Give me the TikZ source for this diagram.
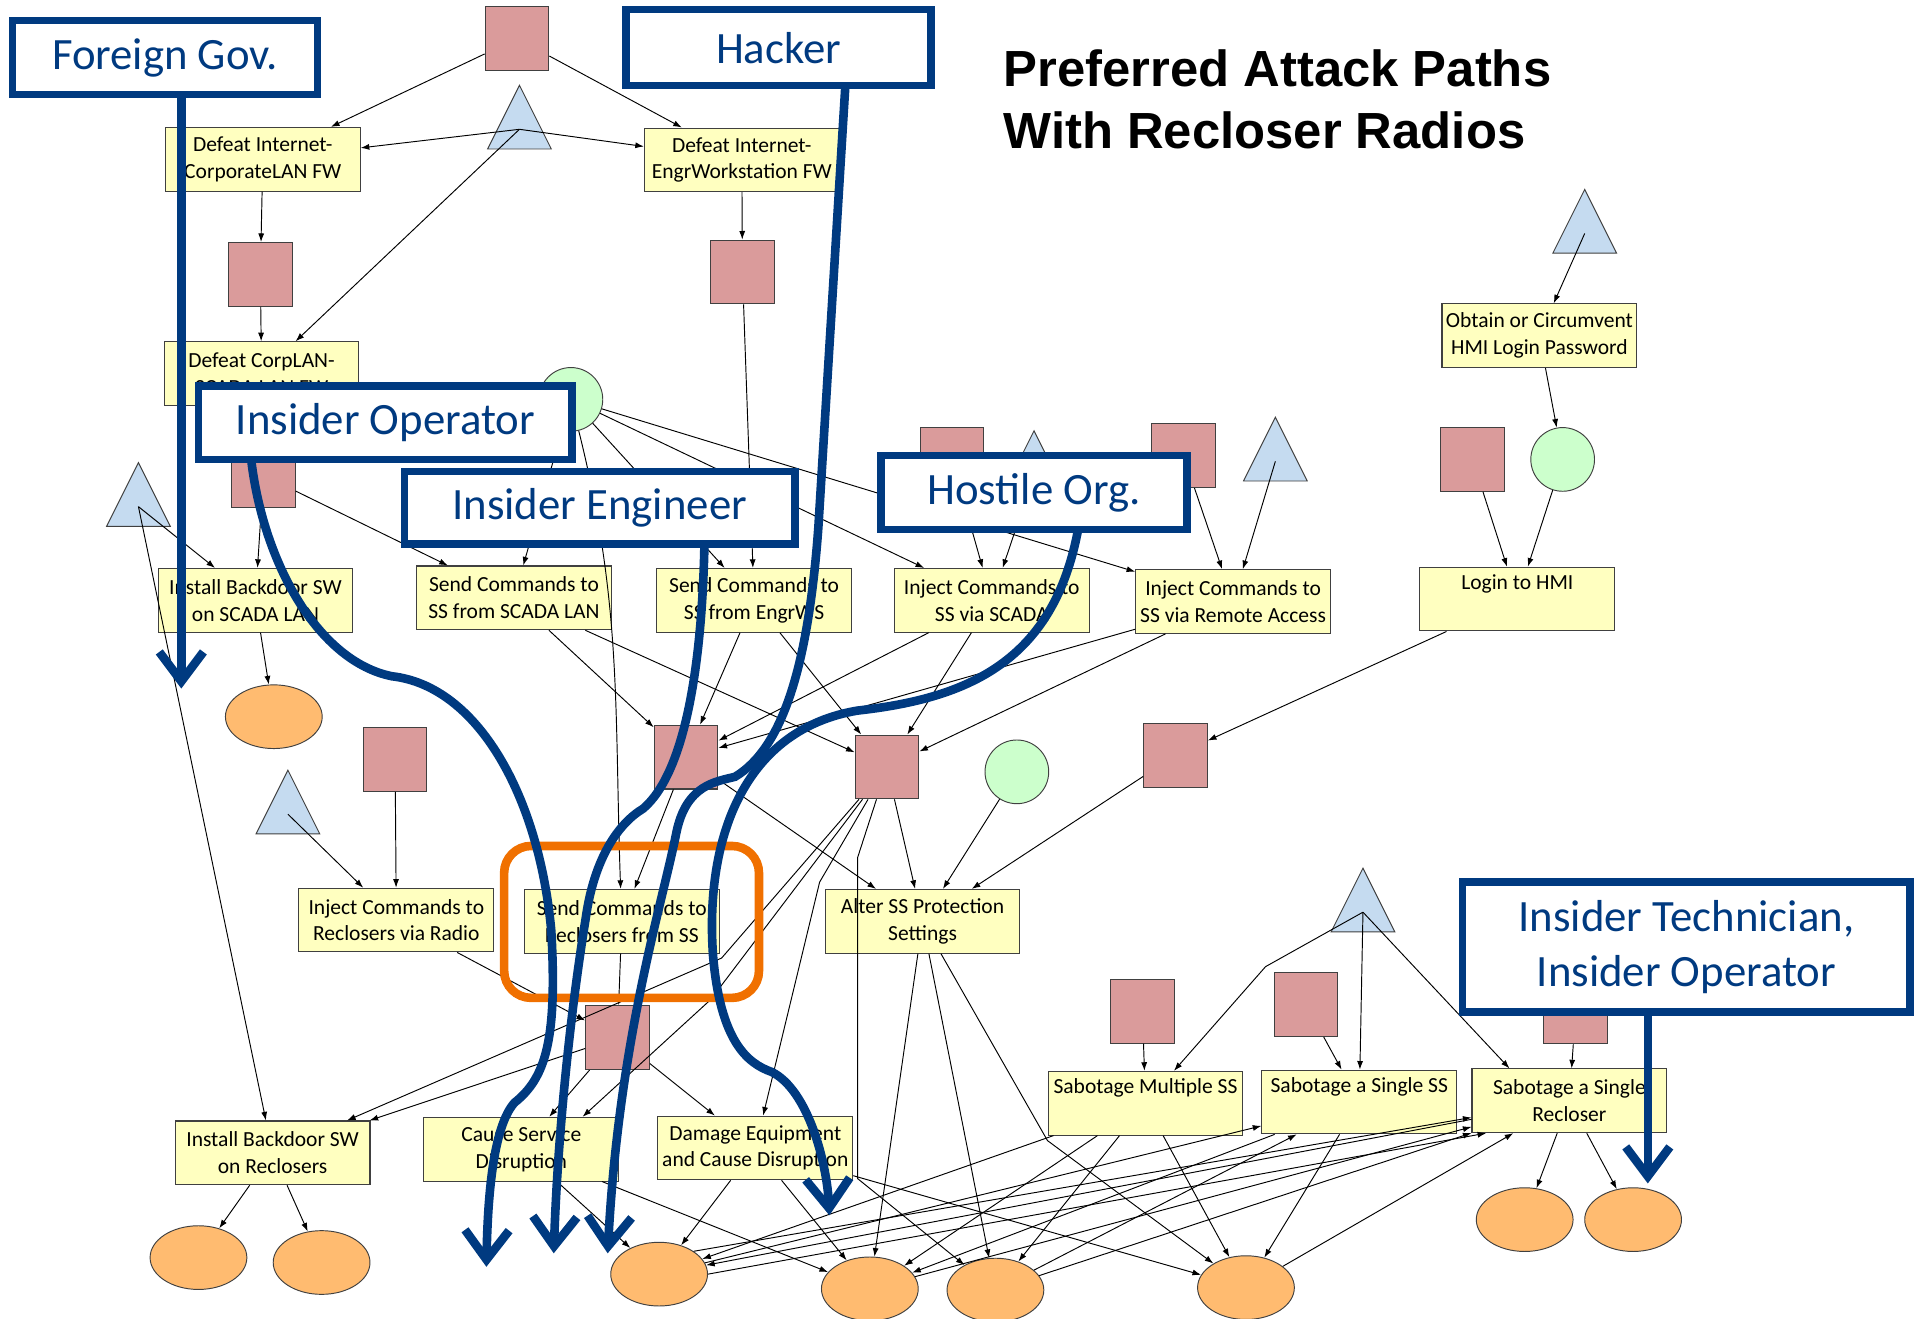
\documentclass[tikz,border=0pt]{standalone}
\usepackage{fontspec}
\setmainfont{Carlito}
\newfontfamily\titlefont{Liberation Sans}
\usetikzlibrary{shapes.geometric,arrows.meta,calc}
\definecolor{navyblue}{RGB}{0,58,128}
\definecolor{stepyellow}{RGB}{255,255,192}
\definecolor{accessred}{RGB}{218,155,155}
\definecolor{knowblue}{RGB}{197,219,240}
\definecolor{skillgreen}{RGB}{204,255,204}
\definecolor{goalorange}{RGB}{255,187,112}
\definecolor{markorange}{RGB}{240,112,0}
\colorlet{shapeline}{black!75}

\begin{document}
\begin{tikzpicture}[x=0.05cm, y=-0.05cm,
  stepbox/.style={draw=shapeline, line width=1.2pt, fill=stepyellow, minimum width=7.95cm, minimum height=2.6cm, inner sep=0pt, align=center, font=\fontsize{25}{31}\selectfont},
  accbox/.style={draw=shapeline, line width=1.2pt, fill=accessred, minimum size=2.6cm, inner sep=0pt},
  knowtri/.style={draw=shapeline, line width=1.1pt, fill=knowblue, isosceles triangle, isosceles triangle stretches, shape border rotate=90, minimum width=2.6cm, minimum height=2.6cm, inner sep=0pt, anchor=lower side},
  skillcirc/.style={draw=shapeline, line width=1.1pt, fill=skillgreen, circle, minimum size=2.6cm, inner sep=0pt},
  goalell/.style={draw=shapeline, line width=1.1pt, fill=goalorange, ellipse, minimum width=3.95cm, minimum height=2.6cm, inner sep=0pt},
  link/.style={-{Latex[length=10pt,width=7pt]}, line width=1.1pt},
  actor/.style={draw=navyblue, line width=8.5pt, fill=white, text=navyblue, inner sep=0pt, align=center, font=\fontsize{52}{64}\selectfont},
  actorpath/.style={navyblue, line width=10pt, -{Straight Barb[length=1.2cm, width=1.8cm]}},
  heading/.style={anchor=base west, inner sep=0pt, font=\titlefont\bfseries\fontsize{59}{70}\selectfont}
]
\useasboundingbox (0,0) rectangle (1568,1076.6);

\node[heading] (title1) at (819,71) {Preferred Attack Paths};
\node[heading] (title2) at (819,121) {With Recloser Radios};

\node[accbox] (p0) at (422,31.5) {};
\node[knowtri] (t0) at (424,122) {};
\node[stepbox] (d1) at (214.5,130) {Defeat Internet-\\CorporateLAN FW};
\node[stepbox] (d2) at (605.5,130.5) {Defeat Internet-\\EngrWorkstation FW};
\node[accbox] (p1) at (212.5,224) {};
\node[accbox] (p2) at (606,222) {};
\node[stepbox] (d3) at (213.5,305) {Defeat CorpLAN-\\SCADA LAN FW};
\node[skillcirc] (c0) at (466,326) {};
\node[knowtri] (t1) at (113,430) {};
\node[accbox] (p3) at (215,388) {};
\node[accbox] (p4) at (777,375) {};
\node[knowtri] (t2) at (844,404) {};
\node[accbox] (p5) at (966,372) {};
\node[knowtri] (t3) at (1041,393) {};
\node[knowtri] (t6) at (1293.5,207) {};
\node[stepbox] (o1) at (1256.5,274) {Obtain or Circumvent\\HMI Login Password};
\node[accbox] (p6) at (1202,375) {};
\node[skillcirc] (c2) at (1275.5,375) {};
\node[stepbox] (i1) at (208.5,490) {Install Backdoor SW\\on SCADA LAN};
\node[stepbox] (s1) at (419.5,488) {Send Commands to\\SS from SCADA LAN};
\node[stepbox] (s2) at (615.5,490) {Send Commands to\\SS from EngrWS};
\node[stepbox] (j1) at (809.5,490) {Inject Commands to\\SS via SCADA};
\node[stepbox] (j2) at (1006.5,491) {Inject Commands to\\SS via Remote Access};
\node[stepbox] (l1) at (1238.5,489) {Login to HMI\\\strut};
\node[goalell] (e0) at (223.5,585) {};
\node[accbox] (p7) at (560,618) {};
\node[accbox] (p8) at (724,626) {};
\node[skillcirc] (c3) at (830,630) {};
\node[accbox] (p9) at (959.5,616.5) {};
\node[accbox] (p10) at (322.5,620) {};
\node[knowtri] (t4) at (235,681) {};
\node[stepbox] (r1) at (323.5,751) {Inject Commands to\\Reclosers via Radio};
\node[stepbox] (r2) at (507.5,752) {Send Commands to\\Reclosers from SS};
\node[stepbox] (a1) at (753,752) {Alter SS Protection\\Settings};
\node[knowtri] (t5) at (1112.5,761) {};
\node[accbox] (p11) at (504,847) {};
\node[accbox] (p12) at (932.5,825.5) {};
\node[accbox] (p13) at (1066,820) {};
\node[accbox] (p14) at (1286,826) {};
\node[stepbox] (b1) at (222.5,941) {Install Backdoor SW\\on Reclosers};
\node[stepbox] (c1) at (425.5,938) {Cause Service\\Disruption};
\node[stepbox] (e1) at (616.5,937) {Damage Equipment\\and Cause Disruption};
\node[stepbox] (m1) at (935,900.5) {Sabotage Multiple SS\\\strut};
\node[stepbox] (g1) at (1109.5,899.5) {Sabotage a Single SS\\\strut};
\node[stepbox] (g2) at (1281,898.5) {Sabotage a Single\\Recloser};
\node[goalell] (x1) at (162,1026.5) {};
\node[goalell] (x2) at (262.5,1030.5) {};
\node[goalell] (z1) at (538,1040) {};
\node[goalell] (z2) at (710,1052) {};
\node[goalell] (z3) at (812.5,1053) {};
\node[goalell] (z4) at (1017,1051) {};
\node[goalell] (y1) at (1244.5,995.5) {};
\node[goalell] (y2) at (1333,995.5) {};

\draw[link] (p0) -- (d1);
\draw[link] (p0) -- (d2);
\draw[link] (t0.center) -- (d1);
\draw[link] (t0.center) -- (d2);
\draw[link] (t0.center) -- (d3);
\draw[link] (d1) -- (p1);
\draw[link] (p1) -- (d3);
\draw[link] (d2) -- (p2);
\draw[link] (p2) -- (s2);
\draw[link] (c0) -- (s1);
\draw[link] (c0) to[out=-76,in=92] (r2);
\draw[link] (c0) -- (s2);
\draw[link] (c0) -- (j1);
\draw[link] (c0) -- (j2);
\draw[link] (t1.center) -- (i1);
\draw[link] (t1.center) -- (b1);
\draw[link] (p3) -- (i1);
\draw[link] (p3) -- (s1);
\draw[link] (p4) -- (j1);
\draw[link] (t2.center) -- (j1);
\draw[link] (p5) -- (j2);
\draw[link] (t3.center) -- (j2);
\draw[link] (t6.center) -- (o1);
\draw[link] (o1) -- (c2);
\draw[link] (p6) -- (l1);
\draw[link] (c2) -- (l1);
\draw[link] (i1) -- (e0);
\draw[link] (s1) -- (p7);
\draw[link] (s1) -- (p8);
\draw[link] (s2) -- (p7);
\draw[link] (s2) -- (p8);
\draw[link] (j1) -- (p7);
\draw[link] (j1) -- (p8);
\draw[link] (j2) -- (p7);
\draw[link] (j2) -- (p8);
\draw[link] (l1) -- (p9);
\draw[link] (p7) -- (r2);
\draw[link] (p7) -- (a1);
\draw[link] (p8) -- (a1);
\draw[link] (c3) -- (a1);
\draw[link] (p9) -- (a1);
\draw[link] (t4.center) -- (r1);
\draw[link] (p10) -- (r1);
\draw[link] (r1) -- (p11);
\draw[link] (r2) -- (p11);
\draw[link] (p11) -- (b1);
\draw[link] (p11) -- (c1);
\draw[link] (p11) -- (e1);
\draw[link] (p8) -- (589,782) -- (b1);
\draw[link] (p8) -- (580,816) -- ($(c1.north)+(50,0)$);
\draw[link] (p8) -- (669,720) -- (e1);
\draw[link] (p8) -- (700,700) -- (700,962) -- (z3);
\draw[link] (b1) -- (x1);
\draw[link] (b1) -- (x2);
\draw[link] (c1) -- (z1);
\draw[link] (c1) -- (z2);
\draw[link] (e1) -- (z1);
\draw[link] (e1) -- (z2);
\draw[link] (e1) -- (z4);
\draw[link] (a1) -- (z2);
\draw[link] (a1) -- (z3);
\draw[link] (a1) -- (855,931) -- (z4);
\draw[link] (t5.center) -- (1033,789) -- (m1);
\draw[link] (t5.center) -- (g1);
\draw[link] (t5.center) -- ($(g2.north west)+(31,0)$);
\draw[link] (p12) -- (m1);
\draw[link] (p13) -- (g1);
\draw[link] (p14) -- (g2);
\draw[link] (m1) -- (z1);
\draw[link] (m1) -- (z2);
\draw[link] (m1) -- (z3);
\draw[link] (m1) -- (z4);
\draw[link] (g1) -- (z2);
\draw[link] (g1) -- (z4);
\draw[link] (g2) -- (z1);
\draw[link] (g2) -- (y1);
\draw[link] (g2) -- (y2);
\draw[link] (z1) -- (g1);
\draw[link] (z1.north east) -- (g2);
\draw[link] (z1.east) -- ($(g2.south west)+(12,0)$);
\draw[link] (z2) -- (g2);
\draw[link] (z3) -- (g1);
\draw[link] (z3) -- (g2);
\draw[link] (z4) -- (g2);

\draw[markorange, line width=10pt, rounded corners=1.1cm] (411.5,690.5) rectangle (619.5,814.5);

\node[actor, minimum width=12.45cm, minimum height=3cm] (fg) at (134.5,47) {Foreign Gov.};
\node[actor, minimum width=12.45cm, minimum height=3.1cm] (hk) at (635.5,39) {Hacker};
\node[actor, minimum width=15.25cm, minimum height=3cm] (io) at (314.5,345) {Insider Operator};
\node[actor, minimum width=15.95cm, minimum height=2.95cm] (ie) at (489.5,414.5) {Insider Engineer};
\node[actor, minimum width=12.5cm, minimum height=3cm] (ho) at (844,402) {Hostile Org.};
\node[actor, minimum width=18.25cm, minimum height=5.3cm] (it) at (1376.5,773) {Insider Technician,\\Insider Operator};

\draw[actorpath] (148,77) -- (148,562);
\draw[actorpath] (690,70) -- (668,430) .. controls (660,540) and (640,610) .. (600,634) .. controls (585,638) and (560,640) .. (552,680) .. controls (540,740) and (505,850) .. (496,1023);
\draw[actorpath] (575,444) .. controls (573,540) and (560,630) .. (525,660) .. controls (505,672) and (485,700) .. (478,750) .. controls (465,830) and (455,930) .. (452,1023);
\draw[actorpath] (205,375) .. controls (215,460) and (260,540) .. (320,552) .. controls (390,560) and (440,650) .. (450,760) .. controls (455,850) and (445,880) .. (420,900) .. controls (402,920) and (398,980) .. (397,1034);
\draw[actorpath] (880,432) .. controls (860,540) and (790,570) .. (700,580) .. controls (610,595) and (575,680) .. (582,780) .. controls (588,850) and (610,868) .. (630,875) .. controls (660,890) and (675,950) .. (677,992);
\draw[actorpath] (1345,826) -- (1345,966);
\end{tikzpicture}
\end{document}
